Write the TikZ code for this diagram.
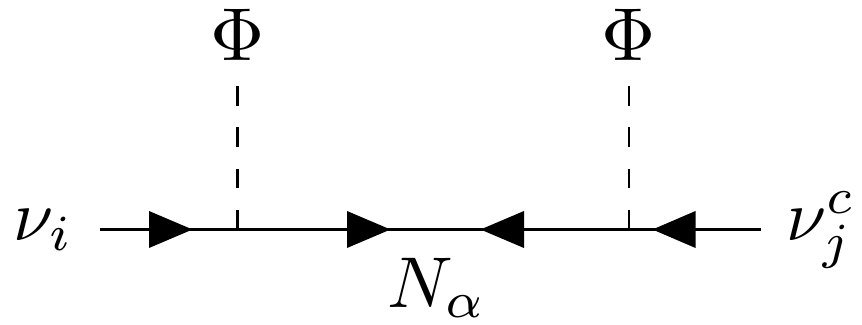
\documentclass[tikz,border=0pt]{standalone}
\usepackage{amsmath}
\tikzset{
 fermion/.style={line width=2.1pt},
 scalar/.style={line width=2.1pt,dash pattern=on 19.5pt off 21.8pt},
 lab/.style={inner sep=0pt,scale=7.2},
 biglab/.style={inner sep=0pt,scale=7.5}
}
\begin{document}
\begin{tikzpicture}[x=1pt,y=-1pt]
\useasboundingbox (0,0) rectangle (862,324);
\coordinate (a) at (100,229.5);
\coordinate (v1) at (237.5,229.5);
\coordinate (v2) at (629.4,229.5);
\coordinate (b) at (761,229.5);
\coordinate (t1) at (237.5,86);
\coordinate (t2) at (629.4,86);
\draw[fermion] (a) -- (v1) -- (v2) -- (b);
\draw[scalar] (t1) -- (v1);
\draw[scalar] (t2) -- (v2);
\fill (149,211) -- (192.5,229.5) -- (149,248) -- cycle;
\fill (347,211) -- (390.5,229.5) -- (347,248) -- cycle;
\fill (524,211) -- (480.5,229.5) -- (524,248) -- cycle;
\fill (695.5,211) -- (652.5,229.5) -- (695.5,248) -- cycle;
\node[biglab,anchor=base] (phi1) at (237.5,60) {$\Phi$};
\node[biglab,anchor=base] (phi2) at (629,60) {$\Phi$};
\node[lab,anchor=base west] (nu) at (12,240) {$\nu_i$};
\node[lab,anchor=base west] (nuc) at (785,240) {$\nu_j^c$};
\node[lab,anchor=base west] (N) at (386,307) {$N_\alpha$};
\end{tikzpicture}
\end{document}
